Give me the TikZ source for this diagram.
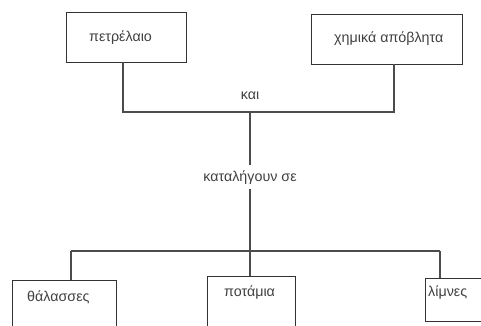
\documentclass[tikz,border=0pt]{standalone}
\usepackage{fontspec}
\setmainfont{Liberation Sans}
\begin{document}
\begin{tikzpicture}[x=1pt,y=-1pt,
  box/.style={draw=black!80,line width=0.9pt,rectangle,inner sep=0pt},
  label/.style={inner sep=0pt,anchor=base west,font=\fontsize{14.3}{16}\selectfont,text=black!75},
  link/.style={draw=black!70,line width=1.1pt}]
\useasboundingbox (0,0) rectangle (481,325);
\clip (0,0) rectangle (481,325);

% top boxes
\node[box,minimum width=120pt,minimum height=50pt] (oil) at (126,37) {};
\node[box,minimum width=151pt,minimum height=50pt] (chem) at (386.5,39) {};
\node[label] (toil) at (89,41) {πετρέλαιο};
\node[label] (tchem) at (334,42) {χημικά απόβλητα};

% bottom boxes (cut at the lower edge)
\node[box,minimum width=104pt,minimum height=70pt] (sea) at (64,315) {};
\node[box,minimum width=88pt,minimum height=74pt] (river) at (251,313) {};
\node[box,minimum width=66pt,minimum height=43pt] (lake) at (458,299.5) {};
\node[label] (tsea) at (27,301) {θάλασσες};
\node[label] (triver) at (224,296) {ποτάμια};
\node[label] (tlake) at (428,296) {λίμνες};

% junction points
\coordinate (jl) at (123,112);
\coordinate (jr) at (394,112);
\coordinate (jtop) at (250,112);
\coordinate (jbot) at (250,251);
\coordinate (bl) at (71,251);
\coordinate (br) at (440,251);

% connector labels
\node[label,anchor=base] (kai) at (250,99) {και};
\node[label,anchor=base] (end) at (250,181) {καταλήγουν σε};

% connectors
\draw[link] (oil.south -| jl) -- (jl) -- (jr) -- (chem.south -| jr);
\draw[link] (jtop) -- (250,165);
\draw[link] (250,189) -- (jbot);
\draw[link] (jbot) -- (river.north -| jbot);
\draw[link] (bl) -- (br);
\draw[link] (bl) -- (sea.north -| bl);
\draw[link] (br) -- (lake.north -| br);
\end{tikzpicture}
\end{document}
